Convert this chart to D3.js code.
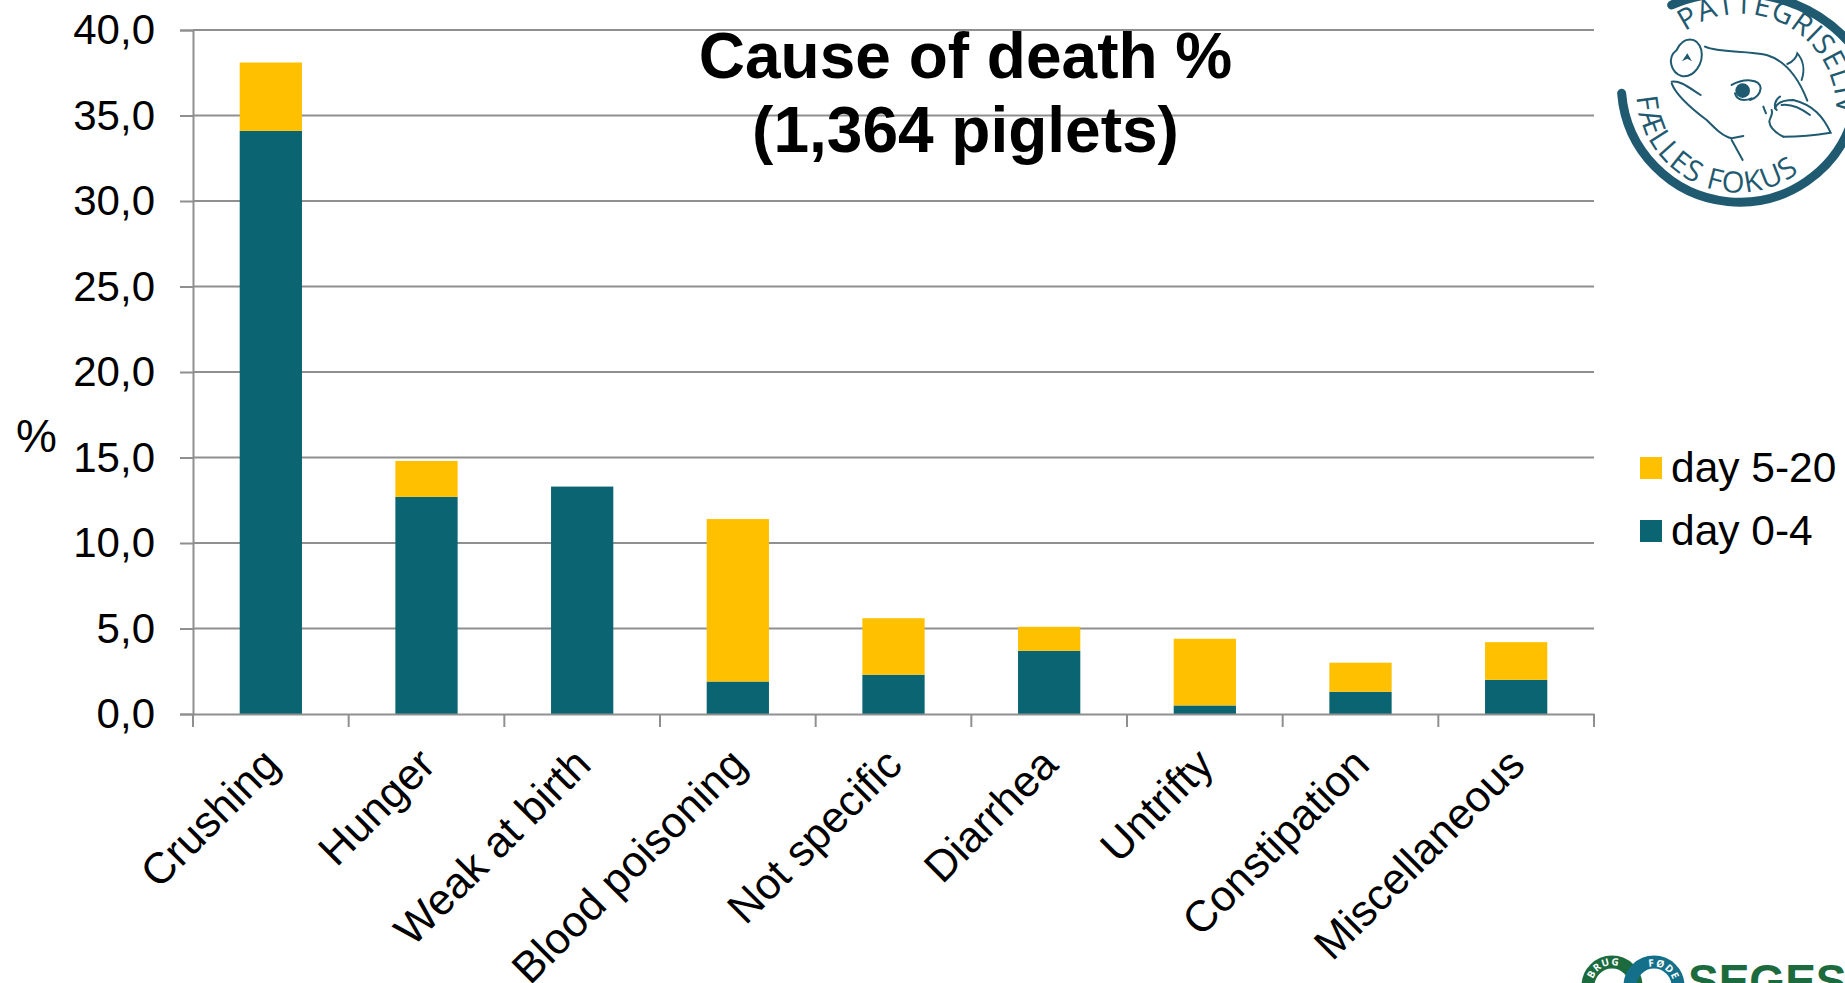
<!DOCTYPE html>
<html>
<head>
<meta charset="utf-8">
<script src="https://cdn.jsdelivr.net/npm/d3@7"></script>
<style>
  html, body { margin: 0; padding: 0; background: #fff; overflow: hidden; }
  svg { display: block; }
  text { font-family: "Liberation Sans", Arial, sans-serif; fill: #000; }
  .logo text { font-family: "Open Sans", sans-serif; }
</style>
</head>
<body>
<div id="chart"></div>
<script>
const categories = ['Crushing', 'Hunger', 'Weak at birth', 'Blood poisoning', 'Not specific', 'Diarrhea', 'Untrifty', 'Constipation', 'Miscellaneous'];
const day04 = [34.1, 12.7, 13.3, 1.9, 2.3, 3.7, 0.5, 1.3, 2.0];
const day520 = [4.0, 2.1, 0.0, 9.5, 3.3, 1.4, 3.9, 1.7, 2.2];
const yTicks = [0, 5, 10, 15, 20, 25, 30, 35, 40];
const seriesNames = ['day 0-4', 'day 5-20'];
const seriesColors = ['#0b6472', '#ffc000'];
const titleLines = ['Cause of death %', '(1,364 piglets)'];

const width = 1845, height = 983;
const plotLeft = 193, plotRight = 1594, plotTop = 30, plotBottom = 714;
const gridColor = '#8f8f8f';

const svg = d3.select('#chart').append('svg')
    .attr('width', width)
    .attr('height', height);

const x = d3.scaleBand().domain(categories).range([plotLeft, plotRight]).paddingInner(0.6).paddingOuter(0.3);
const y = d3.scaleLinear().domain([0, 40]).range([plotBottom, plotTop]);

const rows = categories.map((c, i) => ({ cat: c, 'day 0-4': day04[i], 'day 5-20': day520[i] }));
const stacked = d3.stack().keys(seriesNames)(rows);

// gridlines sit behind the bars
svg.append('g').selectAll('line')
    .data(yTicks.slice(1))
    .enter().append('line')
      .attr('x1', plotLeft)
      .attr('x2', plotRight)
      .attr('y1', d => y(d))
      .attr('y2', d => y(d))
      .attr('stroke', gridColor)
      .attr('stroke-width', 2);

svg.append('g').selectAll('g')
    .data(stacked)
    .enter().append('g')
      .attr('fill', (d, i) => seriesColors[i])
    .selectAll('rect')
    .data(d => d)
    .enter().append('rect')
      .attr('x', d => x(d.data.cat))
      .attr('width', x.bandwidth())
      .attr('y', d => y(d[1]))
      .attr('height', d => y(d[0]) - y(d[1]));

// y axis
const yAxis = svg.append('g')
    .attr('transform', `translate(${plotLeft},0)`)
    .call(d3.axisLeft(y).tickValues(yTicks).tickSize(13).tickPadding(25)
      .tickFormat(d => d3.format('.1f')(d).replace('.', ',')));
yAxis.selectAll('path, line').attr('stroke', gridColor).attr('stroke-width', 2);
yAxis.selectAll('text').attr('font-size', 42).attr('font-family', '"Liberation Sans", Arial, sans-serif').attr('dy', '0.33em');

// x axis: ticks mark the band edges, labels sit rotated under the bands
const step = x.step();
const xAxis = svg.append('g')
    .attr('transform', `translate(0,${plotBottom})`)
    .call(d3.axisBottom(x).tickSize(0).tickSizeOuter(0));
xAxis.select('path').attr('stroke', gridColor).attr('stroke-width', 2);
xAxis.selectAll('text')
    .attr('font-size', 43.5)
    .attr('font-family', '"Liberation Sans", Arial, sans-serif')
    .attr('text-anchor', 'end')
    .attr('x', 0)
    .attr('y', 0)
    .attr('dy', 0)
    .attr('transform', 'translate(11,53) rotate(-45)');

svg.append('g').selectAll('line')
    .data(d3.range(categories.length + 1))
    .enter().append('line')
      .attr('x1', i => plotLeft + i * step)
      .attr('x2', i => plotLeft + i * step)
      .attr('y1', plotBottom)
      .attr('y2', plotBottom + 13)
      .attr('stroke', gridColor)
      .attr('stroke-width', 2);

// y axis title
svg.append('text')
    .attr('x', 16)
    .attr('y', 452)
    .attr('font-size', 46)
    .text('%');

// chart title
svg.append('g').selectAll('text')
    .data(titleLines)
    .enter().append('text')
      .attr('x', 965.5)
      .attr('y', (d, i) => 78 + i * 74)
      .attr('text-anchor', 'middle')
      .attr('font-size', 64)
      .attr('font-weight', 'bold')
      .text(d => d);

// legend
const legend = svg.append('g').selectAll('g')
    .data([1, 0])
    .enter().append('g')
      .attr('transform', (d, i) => `translate(1640,${457 + i * 63})`);
legend.append('rect')
    .attr('width', 22)
    .attr('height', 22)
    .attr('fill', d => seriesColors[d]);
legend.append('text')
    .attr('x', 31)
    .attr('y', 25)
    .attr('font-size', 42.5)
    .text(d => seriesNames[d]);

// Pattegriseliv stamp, paths taken in 3x zoom coordinates
const stamp = svg.append('g')
    .attr('class', 'logo')
    .attr('transform', 'translate(1560,0) scale(0.3333)')
    .attr('fill', 'none')
    .attr('stroke', '#1f5a70')
    .attr('stroke-linecap', 'round');
const ringPaths = [
  'M185,280 A355,355 0 0 0 880,350',
  'M335,15 C480,-50 720,-40 870,130'
];
stamp.selectAll('path.ring').data(ringPaths).enter().append('path')
    .attr('class', 'ring')
    .attr('d', d => d)
    .attr('stroke-width', 27);
const pigPaths = [
  'M350,150 C370,108 412,108 424,150 C432,190 402,235 365,228 C335,220 318,175 350,150',
  'M435,140 C480,160 560,150 620,165 C670,180 710,220 742,302',
  'M682,192 C700,185 710,170 712,160 C730,180 735,210 725,240',
  'M335,245 C360,240 390,265 422,285',
  'M335,250 C350,290 400,330 440,360 C470,390 490,410 515,415 L550,408',
  'M515,420 L548,480',
  'M515,255 C550,235 600,235 602,265 C600,285 585,295 570,300',
  'M525,280 C530,300 550,305 575,295',
  'M670,410 C720,410 770,405 812,398 C790,350 760,315 700,300 C670,300 650,310 645,325',
  'M670,410 C650,400 630,385 628,365 C630,350 640,345 635,330',
  'M610,320 L618,340',
  'M660,290 C645,300 640,320 650,330',
  'M665,315 C700,310 730,330 750,345'
];
stamp.selectAll('path.pig').data(pigPaths).enter().append('path')
    .attr('class', 'pig')
    .attr('d', d => d)
    .attr('stroke-width', 6);
stamp.append('circle').attr('cx', 548).attr('cy', 272).attr('r', 22).attr('fill', '#1f5a70').attr('stroke', 'none');
stamp.append('path').attr('d', 'M366,184 L382,160 L396,184 L382,176 Z').attr('fill', '#1f5a70').attr('stroke', 'none');

const defs = svg.append('defs');
defs.append('path').attr('id', 'arcTop').attr('d', 'M375,95 A287,287 0 0 1 760,515');
defs.append('path').attr('id', 'arcBottom').attr('d', 'M230,290 A305,305 0 0 0 720,515');
stamp.append('text')
    .attr('font-size', 88)
    .attr('letter-spacing', 2)
    .attr('stroke', 'none')
    .style('fill', '#1f5a70')
  .append('textPath')
    .attr('href', '#arcTop')
    .text('PATTEGRISELIV');
stamp.append('text')
    .attr('font-size', 88)
    .attr('letter-spacing', 4)
    .attr('stroke', 'none')
    .style('fill', '#1f5a70')
  .append('textPath')
    .attr('href', '#arcBottom')
    .text('FÆLLES FOKUS');

// SEGES logo, cropped by the bottom of the page
const segesGreen = '#1c6b3f', segesBlue = '#14708a';
const seges = svg.append('g').attr('class', 'logo');
seges.append('circle').attr('cx', 1612).attr('cy', 986).attr('r', 24).attr('fill', 'none').attr('stroke', segesGreen).attr('stroke-width', 13);
seges.append('circle').attr('cx', 1654).attr('cy', 986).attr('r', 24).attr('fill', 'none').attr('stroke', segesBlue).attr('stroke-width', 13);
seges.append('text')
    .attr('x', 1688)
    .attr('y', 997)
    .attr('font-size', 46)
    .attr('font-weight', 'bold')
    .style('font-family', '"Liberation Sans", Arial, sans-serif')
    .style('fill', segesGreen)
    .text('SEGES');
defs.append('path').attr('id', 'arcBrug').attr('d', 'M1593,979 A20,20 0 0 1 1632,986');
defs.append('path').attr('id', 'arcFode').attr('d', 'M1649,967 A20,20 0 0 1 1674,986');
seges.append('text').attr('font-size', 10).attr('letter-spacing', 1).attr('font-weight', 'bold').style('fill', '#fff')
  .append('textPath').attr('href', '#arcBrug').text('BRUG');
seges.append('text').attr('font-size', 10).attr('letter-spacing', 1).attr('font-weight', 'bold').style('fill', '#fff')
  .append('textPath').attr('href', '#arcFode').text('FØDE');
</script>
</body>
</html>
